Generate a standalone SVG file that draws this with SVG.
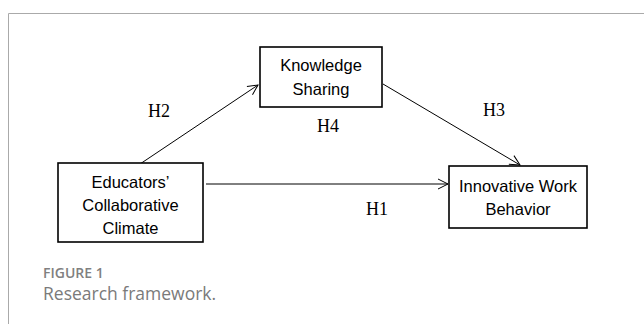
<svg xmlns="http://www.w3.org/2000/svg" width="644" height="324" viewBox="0 0 644 324">
<defs>
<style>
.box{fill:#fff;stroke:#000;stroke-width:1.6}
.nt{font-family:"Liberation Sans",Arial,sans-serif;font-size:16.5px;fill:#000;text-anchor:middle}
.lbl{font-family:"Liberation Serif","Times New Roman",serif;font-size:18px;fill:#000}
.edge{stroke:#000;stroke-width:1;fill:none;marker-end:url(#arr)}
.cap1{font-family:"Open Sans",sans-serif;font-size:14px;font-weight:600;fill:#808080}
.cap2{font-family:"Open Sans",sans-serif;font-size:17.5px;fill:#7a7a7a}
</style>
<marker id="arr" viewBox="0 0 12 12" refX="11" refY="6" markerWidth="12" markerHeight="12" markerUnits="userSpaceOnUse" orient="auto">
<path d="M1,1 L11,6 L1,11" fill="none" stroke="#000" stroke-width="1"/>
</marker>
</defs>
<rect width="644" height="324" fill="#fff"/>
<path d="M8.5,324 V13.5 H644" fill="none" stroke="#aaa" stroke-width="1"/>
<g id="edges">
<line class="edge" x1="140" y1="164" x2="258" y2="85"/>
<line class="edge" x1="383" y1="84" x2="520" y2="165"/>
<line class="edge" x1="206" y1="184" x2="448" y2="184"/>
<text class="lbl" x="148" y="117">H2</text>
<text class="lbl" x="483" y="116">H3</text>
<text class="lbl" x="317" y="132">H4</text>
<text class="lbl" x="366" y="215">H1</text>
</g>
<g id="knowledge">
<rect class="box" x="260" y="47" width="122" height="60"/>
<text class="nt" x="321" y="71">Knowledge</text>
<text class="nt" x="321" y="95">Sharing</text>
</g>
<g id="educators">
<rect class="box" x="58" y="163" width="145" height="79"/>
<text class="nt" x="130.5" y="188">Educators’</text>
<text class="nt" x="130.5" y="211">Collaborative</text>
<text class="nt" x="130.5" y="234">Climate</text>
</g>
<g id="innovative">
<rect class="box" x="449" y="166" width="138" height="62"/>
<text class="nt" x="518" y="192">Innovative Work</text>
<text class="nt" x="518" y="215">Behavior</text>
</g>
<g id="caption">
<text class="cap1" x="43" y="278">FIGURE 1</text>
<text class="cap2" x="43" y="300">Research framework.</text>
</g>
</svg>
